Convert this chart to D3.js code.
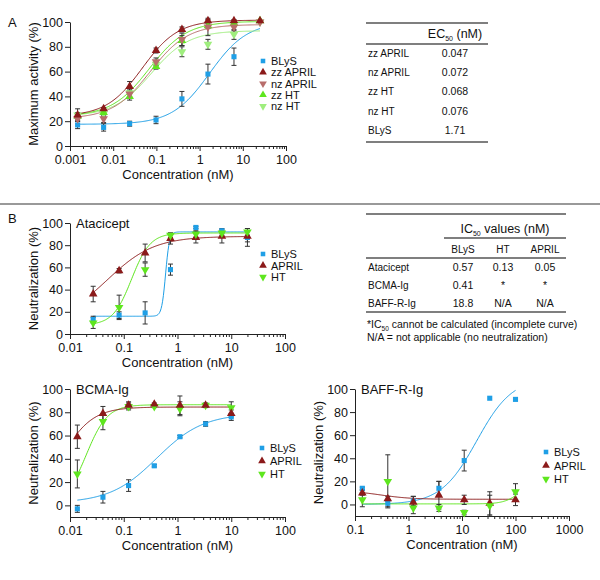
<!DOCTYPE html>
<html>
<head>
<meta charset="utf-8">
<script src="https://cdn.jsdelivr.net/npm/d3@7"></script>
<style>
  body { margin: 0; background: #fff; }
  text { font-family: "Liberation Sans", Arial, sans-serif; fill: #111; }
</style>
</head>
<body>
<div id="chart"></div>
<script>
// ---- Panel A: activity vs concentration ----
const concA = [0.0015, 0.006, 0.024, 0.098, 0.39, 1.56, 6.25, 25];
const blysA = [17, 15, 18, 21, 38, 58, 72, null];
const blysAErr = [3, 3, 2, 3, 6, 8, 7, 0];
const zzAprilA = [25, 30, 48, 77, 94, 101, 101, 101];
const zzAprilAErr = [5, 1, 4, 2, 2, 1, 1, 0];
const nzAprilA = [22, 22, 42, 68, 86, 96, 96, 100];
const nzAprilAErr = [2, 3, 3, 3, 5, 7, 3, 0];
const zzHtA = [24, 27, 40, 64, 85, 97, 99, 101];
const zzHtAErr = [3, 2, 3, 2, 4, 2, 2, 0];
const nzHtA = [25, 26, 43, 66, 76, 82, 90, 100];
const nzHtAErr = [2, 2, 3, 3, 4, 4, 4, 0];
// fitted curves: [bottom, top, EC50, hill]
const fitBlysA = [17.5, 100, 1.71, 1];
const fitZzAprilA = [24, 101.5, 0.047, 1.05];
const fitNzAprilA = [22, 98, 0.072, 1];
const fitZzHtA = [24, 100.5, 0.068, 1];
const fitNzHtA = [24, 93, 0.076, 1];

// ---- Panel B: Atacicept ----
const concAta = [0.027, 0.082, 0.25, 0.74, 2.2, 6.7, 20];
const blysAta = [13, 17, 19, 58, 96, 93, 87];
const blysAtaErr = [3, 3, 10, 5, 1, 2, 8];
const aprilAta = [36, 57, 73, 86, 87, 88, 88];
const aprilAtaErr = [7, 2, 8, 5, 5, 6, 5];
const htAta = [10, 24, 58, 89, 90, 91, 92];
const htAtaErr = [5, 11, 6, 2, 3, 2, 3];
const fitBlysAta = [16, 92, 0.6, 12];
const fitAprilAta = [10, 88, 0.05, 1];
const fitHtAta = [8, 91, 0.14, 2.5];

// ---- Panel B: BCMA-Ig ----
const concBcma = [0.0137, 0.041, 0.123, 0.37, 1.11, 3.33, 10];
const blysBcma = [-3, 7, 17, 34, 59, 70, 76];
const blysBcmaErr = [3, 5, 5, 1, 1, 2, 3];
const aprilBcma = [59, 79, 86, 87, 86, 86, 79];
const aprilBcmaErr = [10, 6, 3, 1, 8, 2, 3];
const htBcma = [27, 72, 85, 85, 83, 86, 84];
const htBcmaErr = [12, 7, 3, 1, 6, 1, 5];
const fitBlysBcma = [2, 79, 0.41, 1];
const fitAprilBcma = [0, 84.5, 0.007, 1.5];
const fitHtBcma = [0, 86.5, 0.02, 2.2];

// ---- Panel B: BAFF-R-Ig ----
const concBaff = [0.137, 0.41, 1.23, 3.7, 11, 33, 100];
const blysBaff = [14, 1, 3, 14, 38, 92, 91];
const blysBaffErr = [1, 3, 4, 6, 9, 0, 1];
const aprilBaff = [10, 5, 2, 8, 4, 1, 4];
const aprilBaffErr = [2, 2, 5, 12, 4, 10, 5];
const htBaff = [4, 20, -3, -3, -7, -1, 11];
const htBaffErr = [6, 23, 5, 3, 2, 9, 7];
const fitBlysBaff = [0, 110, 18.8, 1.3];
const fitAprilBaff = [12, 4.5, 0.3, 1.5];
const fitHtBaff = [0.5, 20, 120, 3];

// ---- Tables ----
const ecLabels = ["zz APRIL", "nz APRIL", "zz HT", "nz HT", "BLyS"];
const ecValues = ["0.047", "0.072", "0.068", "0.076", "1.71"];
const icCols = ["BLyS", "HT", "APRIL"];
const icRows = ["Atacicept", "BCMA-Ig", "BAFF-R-Ig"];
const icValues = [["0.57", "0.13", "0.05"], ["0.41", "*", "*"], ["18.8", "N/A", "N/A"]];

const C = {
  blys: "#1f9fe6",
  zzApril: "#8b1a1a",
  nzApril: "#b86d6b",
  zzHt: "#5ee61e",
  nzHt: "#9fee7e"
};

const svg = d3.select("#chart").append("svg")
  .attr("width", 600).attr("height", 580);

function logfit(p) {
  return x => p[0] + (p[1] - p[0]) / (1 + Math.pow(p[2] / x, p[3]));
}

function panel(o) {
  const x = d3.scaleLog().domain(o.xDomain).range(o.xRange);
  const y = d3.scaleLinear().domain(o.yDomain).range(o.yRange);
  const g = svg.append("g");
  const base = y(o.yDomain[0]);

  // minor and major log ticks
  const majors = [], minors = [];
  for (let d = o.xDomain[0]; d <= o.xDomain[1] * 1.0001; d *= 10) {
    majors.push(+d.toPrecision(3));
    if (d < o.xDomain[1] * 0.999) for (let k = 2; k < 10; k++) minors.push(d * k);
  }
  g.append("g")
    .attr("transform", `translate(0,${base})`)
    .call(d3.axisBottom(x).tickValues(minors).tickSize(3).tickSizeOuter(0).tickFormat(""));
  const xa = g.append("g")
    .attr("transform", `translate(0,${base})`)
    .call(d3.axisBottom(x).tickValues(majors).tickSize(5).tickSizeOuter(0).tickPadding(4)
      .tickFormat(d => String(d)));
  xa.selectAll("text").style("font-size", "12.5px").style("font-family", "Liberation Sans, Arial");

  const ya = g.append("g")
    .attr("transform", `translate(${o.xRange[0]},0)`)
    .call(d3.axisLeft(y).tickValues(o.yTicks).tickSize(5).tickSizeOuter(0).tickPadding(2));
  ya.selectAll("text").style("font-size", "12.5px").style("font-family", "Liberation Sans, Arial");
  g.selectAll(".domain, .tick line").attr("stroke", "#222").attr("stroke-width", 1);

  g.append("text")
    .attr("x", (o.xRange[0] + o.xRange[1]) / 2).attr("y", base + 33)
    .attr("text-anchor", "middle").style("font-size", "13px")
    .text("Concentration (nM)");
  g.append("text")
    .attr("transform", `translate(${o.xRange[0] - 32},${(y(o.yDomain[0]) + y(100)) / 2}) rotate(-90)`)
    .attr("text-anchor", "middle").style("font-size", "13px")
    .text(o.yLabel);
  if (o.title) {
    g.append("text").attr("x", o.xRange[0] + 6).attr("y", y(100) + 5)
      .style("font-size", "13px").text(o.title);
  }

  const line = d3.line().x(d => x(d[0])).y(d => y(d[1]));
  o.series.forEach(s => {
    const f = logfit(s.fit);
    const lo = Math.log10(s.conc[0]), hi = Math.log10(s.conc[s.conc.length - 1]);
    const xs = d3.range(0, 201).map(i => Math.pow(10, lo + (hi - lo) * i / 200));
    g.append("path")
      .datum(xs.map(v => [v, f(v)]))
      .attr("fill", "none").attr("stroke", s.color).attr("stroke-width", 1)
      .attr("d", line);
  });
  o.series.forEach(s => {
    s.conc.forEach((c, i) => {
      const v = s.vals[i];
      if (v == null) return;
      const e = s.err[i];
      if (e > 0) {
        const cx = x(c);
        const eb = g.append("g").attr("stroke", "#333").attr("stroke-width", 1);
        eb.append("line").attr("x1", cx).attr("x2", cx).attr("y1", y(v - e)).attr("y2", y(v + e));
        eb.append("line").attr("x1", cx - 2.5).attr("x2", cx + 2.5).attr("y1", y(v - e)).attr("y2", y(v - e));
        eb.append("line").attr("x1", cx - 2.5).attr("x2", cx + 2.5).attr("y1", y(v + e)).attr("y2", y(v + e));
      }
    });
  });
  o.series.forEach(s => {
    g.selectAll(null)
      .data(s.conc.map((c, i) => [c, s.vals[i]]).filter(d => d[1] != null))
      .join("path")
      .attr("transform", d => `translate(${x(d[0])},${y(d[1])}) rotate(${s.shape === "down" ? 180 : 0})`)
      .attr("d", symbolPath(s.shape))
      .attr("fill", s.color);
  });

  // legend
  o.series.slice().sort((a, b) => a.order - b.order).forEach((s, i) => {
    const ly = o.legend[1] + i * o.legendStep;
    g.append("path")
      .attr("transform", `translate(${o.legend[0]},${ly}) rotate(${s.shape === "down" ? 180 : 0})`)
      .attr("d", symbolPath(s.shape, 0.8)).attr("fill", s.color);
    g.append("text").attr("x", o.legend[0] + 8).attr("y", ly + 4)
      .style("font-size", "11px").text(s.name);
  });
}

function symbolPath(shape, k = 1) {
  if (shape === "square") return d3.symbol(d3.symbolSquare, 26 * k)();
  return d3.symbol(d3.symbolTriangle, 32 * k)();
}

panel({
  xDomain: [0.001, 100], xRange: [70, 286],
  yDomain: [0, 100], yRange: [146, 22], yTicks: [0, 20, 40, 60, 80, 100],
  yLabel: "Maximum activity (%)",
  legend: [263, 61], legendStep: 11.3,
  series: [
    { name: "BLyS", order: 0, conc: concA, vals: blysA, err: blysAErr, fit: fitBlysA, color: C.blys, shape: "square" },
    { name: "nz HT", order: 4, conc: concA, vals: nzHtA, err: nzHtAErr, fit: fitNzHtA, color: C.nzHt, shape: "down" },
    { name: "zz HT", order: 3, conc: concA, vals: zzHtA, err: zzHtAErr, fit: fitZzHtA, color: C.zzHt, shape: "up" },
    { name: "nz APRIL", order: 2, conc: concA, vals: nzAprilA, err: nzAprilAErr, fit: fitNzAprilA, color: C.nzApril, shape: "down" },
    { name: "zz APRIL", order: 1, conc: concA, vals: zzAprilA, err: zzAprilAErr, fit: fitZzAprilA, color: C.zzApril, shape: "up" }
  ]
});

panel({
  xDomain: [0.01, 100], xRange: [70, 285],
  yDomain: [0, 100], yRange: [334, 223], yTicks: [0, 20, 40, 60, 80, 100],
  yLabel: "Neutralization (%)", title: "Atacicept",
  legend: [263, 254], legendStep: 11.5,
  series: [
    { name: "BLyS", order: 0, conc: concAta, vals: blysAta, err: blysAtaErr, fit: fitBlysAta, color: C.blys, shape: "square" },
    { name: "APRIL", order: 1, conc: concAta, vals: aprilAta, err: aprilAtaErr, fit: fitAprilAta, color: C.zzApril, shape: "up" },
    { name: "HT", order: 2, conc: concAta, vals: htAta, err: htAtaErr, fit: fitHtAta, color: C.zzHt, shape: "down" }
  ]
});

panel({
  xDomain: [0.01, 100], xRange: [70, 285],
  yDomain: [-10, 100], yRange: [517, 389], yTicks: [0, 20, 40, 60, 80, 100],
  yLabel: "Neutralization (%)", title: "BCMA-Ig",
  legend: [262, 448], legendStep: 13,
  series: [
    { name: "BLyS", order: 0, conc: concBcma, vals: blysBcma, err: blysBcmaErr, fit: fitBlysBcma, color: C.blys, shape: "square" },
    { name: "HT", order: 2, conc: concBcma, vals: htBcma, err: htBcmaErr, fit: fitHtBcma, color: C.zzHt, shape: "down" },
    { name: "APRIL", order: 1, conc: concBcma, vals: aprilBcma, err: aprilBcmaErr, fit: fitAprilBcma, color: C.zzApril, shape: "up" }
  ]
});

panel({
  xDomain: [0.1, 1000], xRange: [355, 569],
  yDomain: [-10, 100], yRange: [516, 389], yTicks: [0, 20, 40, 60, 80, 100],
  yLabel: "Neutralization (%)", title: "BAFF-R-Ig",
  legend: [546, 452], legendStep: 13.5,
  series: [
    { name: "BLyS", order: 0, conc: concBaff, vals: blysBaff, err: blysBaffErr, fit: fitBlysBaff, color: C.blys, shape: "square" },
    { name: "APRIL", order: 1, conc: concBaff, vals: aprilBaff, err: aprilBaffErr, fit: fitAprilBaff, color: C.zzApril, shape: "up" },
    { name: "HT", order: 2, conc: concBaff, vals: htBaff, err: htBaffErr, fit: fitHtBaff, color: C.zzHt, shape: "down" }
  ]
});

// panel letters and divider
svg.append("text").attr("x", 8).attr("y", 27).style("font-size", "13px").text("A");
svg.append("text").attr("x", 8).attr("y", 223).style("font-size", "13px").text("B");
svg.append("line").attr("x1", 0).attr("x2", 600).attr("y1", 204).attr("y2", 204)
  .attr("stroke", "#777").attr("stroke-width", 1.5);

// ---- Table A ----
const tA = svg.append("g");
[23, 44, 142].forEach(yy => tA.append("line").attr("x1", 366).attr("x2", 488)
  .attr("y1", yy).attr("y2", yy).attr("stroke", "#555").attr("stroke-width", 1.3));
const hA = tA.append("text").attr("x", 455).attr("y", 38).attr("text-anchor", "middle").style("font-size", "12.5px");
hA.append("tspan").text("EC");
hA.append("tspan").attr("dy", 3).style("font-size", "7px").text("50");
hA.append("tspan").attr("dy", -3).text(" (nM)");
ecLabels.forEach((l, i) => {
  const yy = 57 + i * 19.2;
  tA.append("text").attr("x", 368).attr("y", yy).style("font-size", "10px").text(l);
  tA.append("text").attr("x", 455).attr("y", yy).attr("text-anchor", "middle")
    .style("font-size", "10.5px").text(ecValues[i]);
});

// ---- Table B ----
const tB = svg.append("g");
const colX = [463, 503, 545];
[[366, 214], [444, 238], [366, 258], [366, 312]].forEach(d => tB.append("line")
  .attr("x1", d[0]).attr("x2", 566).attr("y1", d[1]).attr("y2", d[1])
  .attr("stroke", "#555").attr("stroke-width", 1.3));
const hB = tB.append("text").attr("x", 505).attr("y", 233).attr("text-anchor", "middle").style("font-size", "12.5px");
hB.append("tspan").text("IC");
hB.append("tspan").attr("dy", 3).style("font-size", "7px").text("50");
hB.append("tspan").attr("dy", -3).text(" values (nM)");
icCols.forEach((c, j) => tB.append("text").attr("x", colX[j]).attr("y", 253)
  .attr("text-anchor", "middle").style("font-size", "10px").text(c));
icRows.forEach((r, i) => {
  const yy = 271 + i * 18;
  tB.append("text").attr("x", 368).attr("y", yy).style("font-size", "10px").text(r);
  icValues[i].forEach((v, j) => tB.append("text").attr("x", colX[j]).attr("y", yy)
    .attr("text-anchor", "middle").style("font-size", "10.5px").text(v));
});
const f1 = tB.append("text").attr("x", 367).attr("y", 328).style("font-size", "10.5px");
f1.append("tspan").text("*IC");
f1.append("tspan").attr("dy", 2.5).style("font-size", "6.5px").text("50");
f1.append("tspan").attr("dy", -2.5).text(" cannot be calculated (incomplete curve)");
tB.append("text").attr("x", 367).attr("y", 341).style("font-size", "10.5px")
  .text("N/A = not applicable (no neutralization)");
</script>
</body>
</html>
